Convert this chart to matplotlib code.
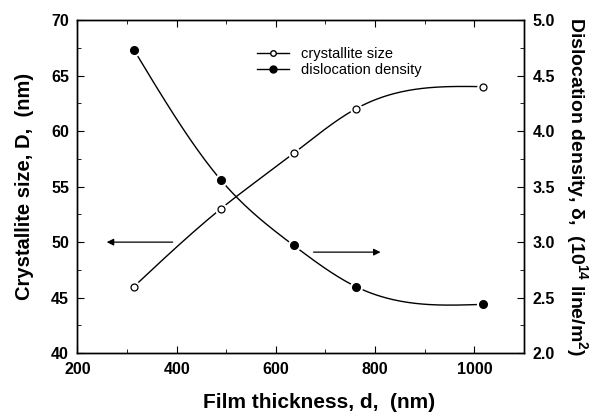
import numpy as np
import matplotlib
matplotlib.use("Agg")
import matplotlib.pyplot as plt
from matplotlib.ticker import MultipleLocator

plt.rcParams['font.family'] = ['Liberation Sans', 'DejaVu Sans']
plt.rcParams['mathtext.fontset'] = 'custom'
plt.rcParams['mathtext.rm'] = 'Liberation Sans:bold'
plt.rcParams['mathtext.bf'] = 'Liberation Sans:bold'

# data
thickness = [314, 489, 636, 761, 1018]          # nm
crystallite = [46.0, 53.0, 58.0, 62.0, 64.0]    # nm
dislocation = [4.73, 3.56, 2.97, 2.60, 2.44]    # 10^14 line/m^2


def spline(x, y, n=200):
    # natural cubic spline, for the smooth connecting line only
    x = np.asarray(x, float)
    y = np.asarray(y, float)
    k = len(x)
    h = np.diff(x)
    A = np.zeros((k, k))
    b = np.zeros(k)
    A[0, 0] = A[-1, -1] = 1
    for i in range(1, k - 1):
        A[i, i - 1] = h[i - 1]
        A[i, i] = 2 * (h[i - 1] + h[i])
        A[i, i + 1] = h[i]
        b[i] = 6 * ((y[i + 1] - y[i]) / h[i] - (y[i] - y[i - 1]) / h[i - 1])
    M = np.linalg.solve(A, b)
    xs = np.linspace(x[0], x[-1], n)
    j = np.clip(np.searchsorted(x, xs) - 1, 0, k - 2)
    t0 = x[j + 1] - xs
    t1 = xs - x[j]
    ys = (M[j] * t0**3 + M[j + 1] * t1**3) / (6 * h[j]) \
        + (y[j] / h[j] - M[j] * h[j] / 6) * t0 \
        + (y[j + 1] / h[j] - M[j + 1] * h[j] / 6) * t1
    return xs, ys


fig = plt.figure(figsize=(6.05, 4.17), dpi=100)
ax = fig.add_axes([0.128, 0.153, 0.738, 0.799])
ax2 = ax.twinx()

xs, ys = spline(thickness, crystallite)
ax.plot(xs, ys, color='black', lw=1.0, zorder=1)
ax.plot(thickness, crystallite, 'o', ms=8, mfc='white', mec='white', zorder=2)
ax.plot(thickness, crystallite, 'o', ms=5, mfc='white', mec='black', mew=0.9, zorder=3)

xs, ys = spline(thickness, dislocation)
ax2.plot(xs, ys, color='black', lw=1.0, zorder=1)
ax2.plot(thickness, dislocation, 'o', ms=8.5, mfc='white', mec='white', zorder=2)
ax2.plot(thickness, dislocation, 'o', ms=5.5, mfc='black', mec='black', zorder=3)

ax.set_xlim(200, 1100)
ax.set_ylim(40, 70)
ax2.set_ylim(2.0, 5.0)

ax.xaxis.set_major_locator(MultipleLocator(200))
ax.xaxis.set_minor_locator(MultipleLocator(100))
ax.yaxis.set_major_locator(MultipleLocator(5))
ax.yaxis.set_minor_locator(MultipleLocator(2.5))
ax2.yaxis.set_major_locator(MultipleLocator(0.5))
ax2.yaxis.set_minor_locator(MultipleLocator(0.25))
ax2.yaxis.set_major_formatter(plt.FormatStrFormatter('%.1f'))

ax.tick_params(which='both', direction='in', top=True, right=False)
ax.tick_params(which='major', length=5, labelsize=11.5, pad=6)
ax.tick_params(which='minor', length=3)
ax2.tick_params(which='both', direction='in')
ax2.tick_params(which='major', length=5, labelsize=11.5, pad=6)
ax2.tick_params(which='minor', length=3)
for a in (ax, ax2):
    for lab in a.get_xticklabels() + a.get_yticklabels():
        lab.set_fontweight('bold')
    for s in a.spines.values():
        s.set_linewidth(1.0)

ax.set_xlabel('Film thickness, d,  (nm)', fontsize=15, fontweight='bold')
ax.xaxis.set_label_coords(0.541, -0.118)
ax.set_ylabel('Crystallite size, D,  (nm)', fontsize=14.5, fontweight='bold', labelpad=12)
ax2.set_ylabel('Dislocation density, δ,  (10$^{14}$ line/m$^{2}$)', fontsize=14,
               fontweight='bold', rotation=-90, labelpad=25)

# legend
h1, = ax.plot([], [], '-o', color='black', ms=4, mfc='white', lw=1.0)
h2, = ax.plot([], [], '-o', color='black', ms=5, mfc='black', lw=1.0)
ax.legend([h1, h2], ['crystallite size', 'dislocation density'], loc='upper left',
          bbox_to_anchor=(0.38, 0.95), frameon=False, fontsize=10.5, handlelength=2.2,
          handletextpad=0.8, labelspacing=0.15, borderpad=0.2)

# arrows pointing to the axes
ax.annotate('', xy=(259, 50), xytext=(392, 50),
            arrowprops=dict(arrowstyle='-|>', color='black', lw=0.9,
                            mutation_scale=10, shrinkA=0, shrinkB=0))
ax2.annotate('', xy=(811, 2.91), xytext=(676, 2.91),
             arrowprops=dict(arrowstyle='-|>', color='black', lw=0.9,
                             mutation_scale=10, shrinkA=0, shrinkB=0))

fig.savefig('out.png', dpi=100)
